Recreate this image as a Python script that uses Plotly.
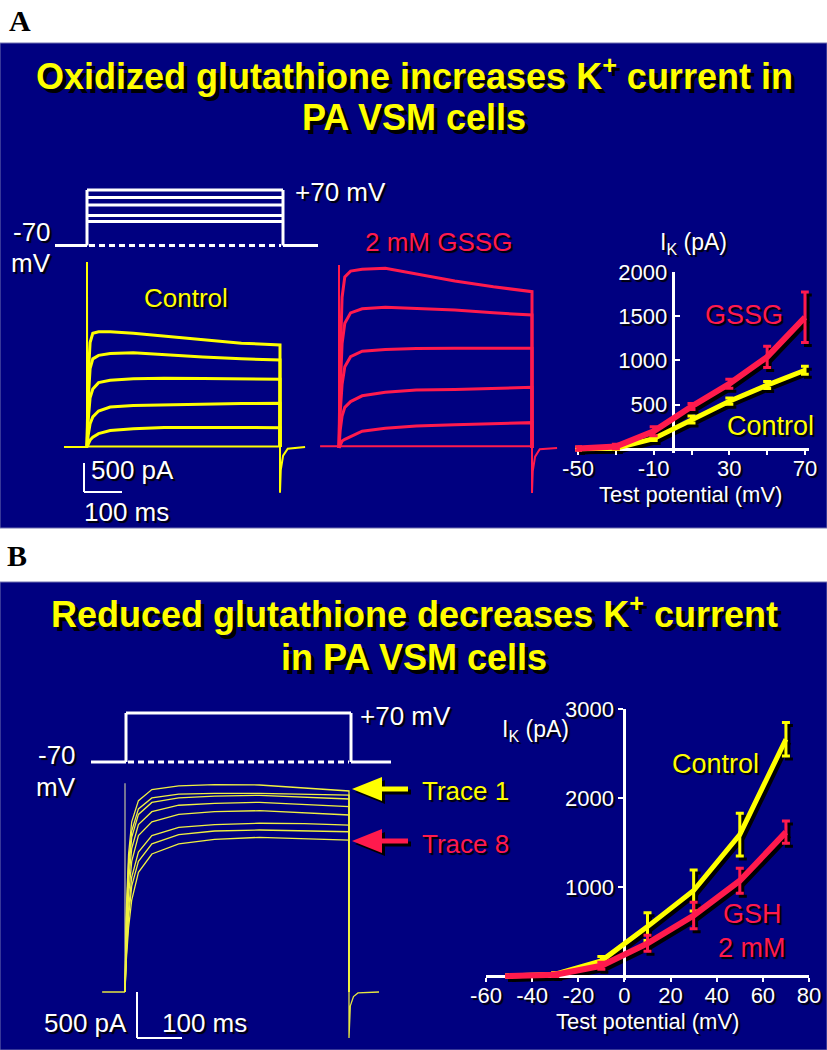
import plotly.graph_objects as go

W, H = 827, 1050
NAVY = '#000080'
YEL = '#ffff00'
RED = '#ff1a4d'
WHITE = '#ffffff'
FONT = 'Liberation Sans, Arial, Helvetica, sans-serif'

# ---------------- I-V data ----------------
iv_v = [-50, -30, -10, 10, 30, 50, 70]
ivA_gssg = [5, 28, 200, 480, 737, 1040, 1488]
ivA_gssg_err = [20, 25, 50, 35, 50, 120, 285]
ivA_ctrl = [3, 8, 116, 332, 540, 722, 890]
ivA_ctrl_err = [15, 15, 20, 40, 35, 40, 45]
ivB_ctrl = [0, 20, 170, 555, 960, 1588, 2660]
ivB_ctrl_err = [15, 20, 50, 157, 230, 240, 187]
ivB_gsh = [0, 15, 115, 367, 680, 1070, 1616]
ivB_gsh_err = [15, 20, 40, 90, 150, 140, 125]

# ---------------- current recordings (ms, pA) ----------------
trace_t = [0, 3, 8, 15, 30, 60, 120, 200, 300, 400, 500]
ctrlA = [
    [0, 1200, 1800, 1960, 1985, 1985, 1960, 1910, 1840, 1790, 1760],
    [0, 800, 1350, 1520, 1580, 1610, 1625, 1590, 1550, 1520, 1500],
    [0, 450, 850, 1000, 1110, 1150, 1175, 1185, 1180, 1170, 1167],
    [0, 200, 400, 520, 620, 690, 717, 730, 740, 750, 753],
    [0, 60, 120, 170, 230, 285, 315, 335, 340, 335, 333],
]
gssgA = [
    [0, 1500, 2600, 2950, 3050, 3080, 3100, 3000, 2880, 2780, 2695],
    [0, 1000, 1800, 2150, 2330, 2400, 2425, 2410, 2380, 2330, 2293],
    [0, 600, 1100, 1400, 1574, 1670, 1700, 1715, 1718, 1718, 1718],
    [0, 300, 550, 700, 800, 900, 960, 1000, 1010, 1030, 1046],
    [0, 60, 120, 150, 200, 290, 340, 380, 400, 420, 437],
]
tracesB = [
    [0, 900, 1500, 1850, 2080, 2200, 2240, 2255, 2250, 2215, 2185],
    [0, 800, 1400, 1750, 1990, 2110, 2150, 2160, 2160, 2150, 2141],
    [0, 750, 1320, 1680, 1930, 2060, 2110, 2130, 2138, 2120, 2098],
    [0, 650, 1200, 1560, 1820, 1960, 2030, 2050, 2062, 2040, 2014],
    [0, 550, 1050, 1420, 1700, 1850, 1930, 1960, 1971, 1950, 1924],
    [0, 450, 900, 1250, 1520, 1700, 1790, 1820, 1834, 1830, 1815],
    [0, 400, 820, 1150, 1420, 1610, 1710, 1750, 1761, 1755, 1742],
    [0, 350, 700, 1000, 1300, 1500, 1610, 1660, 1681, 1670, 1652],
]
capA_t = [-60, 0, 0, 0.5, 500, 500, 502, 508, 520, 565]
capA_i = [0, 0, 3190, 10, 10, -790, -400, -150, -30, 0]
capR_t = [-49, 0, 0, 0.5, 500, 500, 502, 508, 520, 565]
capR_i = [30, 30, 3155, 30, 30, -776, -400, -150, -20, 0]
capB_t = [-51, 0, None, 500, 500, 503, 510, 520, 567]
capB_i = [0, 0, None, 0, -500, -150, -50, -10, 0]
spikeB_t = [0, 0]
spikeB_i = [0, 2270]


def px(x):
    return x / W


def py(y):
    return 1 - y / H


layout = dict(width=W, height=H,
              margin=dict(l=0, r=0, t=0, b=0, pad=0, autoexpand=False),
              paper_bgcolor='white', plot_bgcolor='rgba(0,0,0,0)',
              showlegend=False)


def ax_name(kind, n):
    return kind + 'axis' + ('' if n == 1 else str(n))


def add_hidden_axes(n, xpx, ypx, xr, yr):
    layout[ax_name('x', n)] = dict(domain=[px(xpx[0]), px(xpx[1])], range=xr,
                                   visible=False, anchor='y%d' % n if n > 1 else 'y',
                                   fixedrange=True)
    layout[ax_name('y', n)] = dict(domain=[py(ypx[1]), py(ypx[0])], range=yr,
                                   visible=False, anchor='x%d' % n if n > 1 else 'x',
                                   fixedrange=True)


TICKFONT = dict(family=FONT, size=22, color=WHITE, shadow='2px 2px 1px #000')

# IV geometry (pixel box <-> value range)
kA = 227 / 120.0
A_xr, A_yr = [-51.5, 72], [-40, 2000]
A_xpx = (578 + (A_xr[0] + 50) * kA, 578 + (A_xr[1] + 50) * kA)
A_ypx = (272, 452.5)
B_xpx, B_ypx, B_xr, B_yr = (486, 809), (709, 980.45), [-60, 80], [-50, 3000]
SH = 3

add_hidden_axes(1, (A_xpx[0] + SH, A_xpx[1] + SH), (A_ypx[0] + SH, A_ypx[1] + SH), A_xr, A_yr)
add_hidden_axes(3, (B_xpx[0] + SH, B_xpx[1] + SH), (B_ypx[0] + SH, B_ypx[1] + SH), B_xr, B_yr)


def zero_pos(xpx, ypx, xr, yr):
    x0 = xpx[0] + (0 - xr[0]) / (xr[1] - xr[0]) * (xpx[1] - xpx[0])
    y0 = ypx[1] - (0 - yr[0]) / (yr[1] - yr[0]) * (ypx[1] - ypx[0])
    return x0, y0


def add_iv_axes(n, xpx, ypx, xr, yr, xtv, xtt, ytv, yticks):
    x0, y0 = zero_pos(xpx, ypx, xr, yr)
    layout[ax_name('x', n)] = dict(domain=[px(xpx[0]), px(xpx[1])], range=xr,
                                   anchor='free', position=py(y0), showline=True,
                                   linecolor=WHITE, linewidth=3, ticks='outside',
                                   ticklen=4, tickwidth=2, tickcolor=WHITE,
                                   tickvals=xtv, ticktext=xtt, tickfont=TICKFONT,
                                   ticklabelstandoff=-5,
                                   showgrid=False, zeroline=False, fixedrange=True,
                                   automargin=False, layer='below traces')
    layout[ax_name('y', n)] = dict(domain=[py(ypx[1]), py(ypx[0])], range=yr,
                                   anchor='free', position=px(x0), showline=True,
                                   linecolor=WHITE, linewidth=3, ticks=yticks,
                                   ticklen=5, tickwidth=2, tickcolor=WHITE,
                                   tickvals=ytv, tickfont=TICKFONT,
                                   showgrid=False, zeroline=False, fixedrange=True,
                                   automargin=False, layer='below traces')


add_iv_axes(2, A_xpx, A_ypx, A_xr, A_yr, [-50, -10, 30, 70], ['-50', '-10', '30', '70'],
            [500, 1000, 1500, 2000], 'inside')
layout['xaxis2']['minor'] = dict(tickvals=[-30, 10, 50], ticks='outside', ticklen=4,
                                 tickwidth=2, tickcolor=WHITE)
add_iv_axes(4, B_xpx, B_ypx, B_xr, B_yr, list(range(-60, 81, 20)),
            [str(v) for v in range(-60, 81, 20)], [1000, 2000, 3000], 'outside')


# trace axes: (pixel of t=0, px/ms) and (pixel of baseline, px/pA)
def trace_axes(n, t0px, kx, xr, b0px, ky, yr):
    xpx = (t0px + xr[0] * kx, t0px + xr[1] * kx)
    ypx = (b0px - yr[1] * ky, b0px - yr[0] * ky)
    add_hidden_axes(n, xpx, ypx, xr, yr)


trace_axes(5, 87, 0.386, [-60, 580], 447, 0.058, [-800, 3200])
trace_axes(6, 339, 0.386, [-60, 580], 448, 0.058, [-800, 3300])
trace_axes(7, 125, 0.448, [-60, 570], 992, 0.092, [-600, 2500])

fig = go.Figure()


def add_line(x, y, ax, color, width, err=None):
    kw = {}
    if err is not None:
        kw['error_y'] = dict(type='data', array=err, color=color, thickness=3, width=4)
    xa = 'x' if ax == 1 else 'x%d' % ax
    ya = 'y' if ax == 1 else 'y%d' % ax
    fig.add_trace(go.Scatter(x=x, y=y, xaxis=xa, yaxis=ya, mode='lines',
                             line=dict(color=color, width=width), hoverinfo='skip', **kw))


# shadows
add_line(iv_v, ivA_ctrl, 1, 'black', 5, ivA_ctrl_err)
add_line(iv_v, ivA_gssg, 1, 'black', 6, ivA_gssg_err)
add_line(iv_v, ivB_ctrl, 3, 'black', 5, ivB_ctrl_err)
add_line(iv_v, ivB_gsh, 3, 'black', 6, ivB_gsh_err)
# IV curves
add_line(iv_v, ivA_ctrl, 2, YEL, 5, ivA_ctrl_err)
add_line(iv_v, ivA_gssg, 2, RED, 6, ivA_gssg_err)
add_line(iv_v, ivB_ctrl, 4, YEL, 5, ivB_ctrl_err)
add_line(iv_v, ivB_gsh, 4, RED, 6, ivB_gsh_err)

# recordings
add_line(capA_t, capA_i, 5, YEL, 2)
for tr in ctrlA:
    add_line(trace_t + [500], tr + [0], 5, YEL, 3)
add_line(capR_t, capR_i, 6, RED, 2)
for tr in gssgA:
    add_line(trace_t + [500], tr + [0], 6, RED, 3)
add_line(capB_t, capB_i, 7, '#e6e640', 1.3)
add_line(spikeB_t, spikeB_i, 7, '#9a9a9a', 1.5)
for tr in tracesB:
    add_line(trace_t + [500], tr + [0], 7, '#f0f040', 1.3)

# ---------------- shapes ----------------
shapes = []


def rect(x0, y0, x1, y1, fill, line='#7070b0'):
    shapes.append(dict(type='rect', xref='paper', yref='paper', x0=px(x0), x1=px(x1),
                       y0=py(y0), y1=py(y1), fillcolor=fill, line=dict(color=line, width=1),
                       layer='below'))


def seg(x0, y0, x1, y1, color=WHITE, width=3, dash='solid'):
    shapes.append(dict(type='line', xref='paper', yref='paper', x0=px(x0), x1=px(x1),
                       y0=py(y0), y1=py(y1), line=dict(color=color, width=width, dash=dash)))


def poly(points, color):
    d = 'M ' + ' L '.join('%.5f,%.5f' % (px(x), py(y)) for x, y in points) + ' Z'
    shapes.append(dict(type='path', xref='paper', yref='paper', path=d,
                       fillcolor=color, line=dict(color=color, width=0)))


rect(0, 43, 827, 528, NAVY)
rect(0, 582, 827, 1050, NAVY)

# protocol A
baseA = 245.5
seg(55, baseA, 87, baseA)
seg(87, baseA, 87, 190)
seg(283, baseA, 283, 190)
seg(283, baseA, 318, baseA)
for yy in [190, 197.5, 205, 215.5, 221.5]:
    seg(87, yy, 283, yy)
seg(89, baseA, 281, baseA, dash='6px,4px')
# protocol B
baseB = 762
seg(91, baseB, 126, baseB)
seg(126, baseB, 126, 713)
seg(126, 713, 351, 713)
seg(351, 713, 351, baseB)
seg(351, baseB, 391, baseB)
seg(128, baseB, 349, baseB, dash='6px,4px')

# scale bars
seg(84, 463, 84, 492, width=2)
seg(84, 492, 122, 492, width=2)
seg(137, 992, 137, 1038, width=2)
seg(137, 1038, 182, 1038, width=2)


def arrow(ytip, color):
    pts = [(352, ytip), (382, ytip - 12), (382, ytip - 2.5), (408, ytip - 2.5),
           (408, ytip + 2.5), (382, ytip + 2.5), (382, ytip + 12)]
    poly([(x + 3, y + 3) for x, y in pts], 'black')
    poly(pts, color)


arrow(789, YEL)
arrow(841, RED)

layout['shapes'] = shapes

# ---------------- text ----------------
ann = []


def txt(s, x, y, size, color, xanchor='center', shadow='2px 2px 1px #000', family=FONT):
    ann.append(dict(text=s, x=px(x), y=py(y), xref='paper', yref='paper',
                    xanchor=xanchor, yanchor='middle', showarrow=False,
                    font=dict(family=family, size=size, color=color, shadow=shadow)))


SERIF = 'Liberation Serif, Times New Roman, serif'
txt('<b>A</b>', 20, 20, 30, 'black', shadow='none', family=SERIF)
txt('<b>B</b>', 17, 555, 30, 'black', shadow='none', family=SERIF)
TS = '4px 4px 0px #000'
txt('<b>Oxidized glutathione increases K<sup>+</sup> current in</b>', 414, 74, 36, YEL, shadow=TS)
txt('<b>PA VSM cells</b>', 414, 118, 36, YEL, shadow=TS)
txt('<b>Reduced glutathione decreases K<sup>+</sup> current</b>', 414, 612, 36, YEL, shadow=TS)
txt('<b>in PA VSM cells</b>', 414, 657, 36, YEL, shadow=TS)

txt('+70 mV', 293, 192, 26, WHITE, 'left')
txt('-70', 53, 232, 26, WHITE, 'right')
txt('mV', 53, 263, 26, WHITE, 'right')
txt('Control', 186, 298, 26, YEL)
txt('2 mM GSSG', 438, 242, 26, RED)
txt('500 pA', 89, 470, 26, WHITE, 'left')
txt('100 ms', 82, 512, 26, WHITE, 'left')
txt('I<sub>K</sub> (pA)', 693, 244, 23, WHITE)
txt('Test potential (mV)', 690, 494, 22, WHITE)
txt('GSSG', 744, 315, 27, RED)
txt('Control', 770, 426, 27, YEL)

txt('+70 mV', 358, 716, 26, WHITE, 'left')
txt('-70', 78, 755, 26, WHITE, 'right')
txt('mV', 78, 787, 26, WHITE, 'right')
txt('Trace 1', 420, 791, 26, YEL, 'left')
txt('Trace 8', 420, 844, 26, RED, 'left')
txt('500 pA', 42, 1023, 26, WHITE, 'left')
txt('100 ms', 160, 1023, 26, WHITE, 'left')
txt('I<sub>K</sub> (pA)', 535, 730, 23, WHITE)
txt('Control', 715, 764, 27, YEL)
txt('GSH', 752, 914, 27, RED)
txt('2 mM', 752, 948, 27, RED)
txt('Test potential (mV)', 647, 1021, 22, WHITE)

layout['annotations'] = ann
fig.update_layout(**layout)
fig.write_html('out.html', config={'displayModeBar': False},
               post_script="document.body.style.margin='0px';"
                           "document.body.style.overflow='hidden';")
